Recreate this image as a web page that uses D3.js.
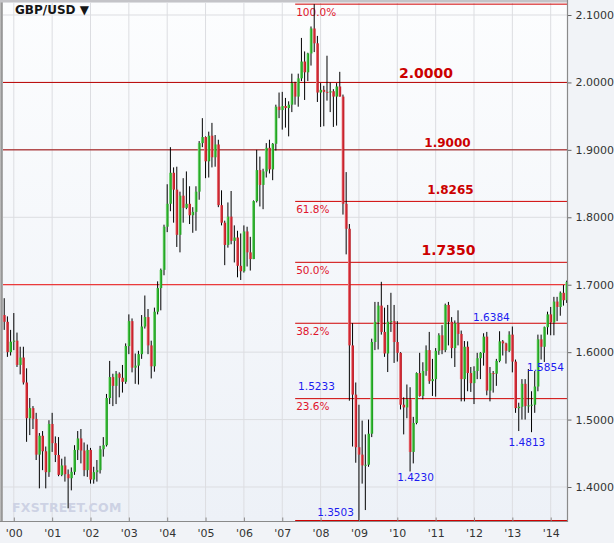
<!DOCTYPE html>
<html><head><meta charset="utf-8">
<script src="https://cdn.jsdelivr.net/npm/d3@7/dist/d3.min.js"></script>
<style>
html,body{margin:0;padding:0;background:#f1f3f7;}
svg{display:block;font-family:Verdana,"DejaVu Sans",sans-serif;}
</style>
</head><body>
<svg id="chart" width="614" height="543"></svg>
<script>
// ---------- DATA (monthly GBP/USD candles) ----------
const months = [
"1999-10","1999-11","1999-12",
"2000-01","2000-02","2000-03","2000-04","2000-05","2000-06","2000-07","2000-08","2000-09","2000-10","2000-11","2000-12",
"2001-01","2001-02","2001-03","2001-04","2001-05","2001-06","2001-07","2001-08","2001-09","2001-10","2001-11","2001-12",
"2002-01","2002-02","2002-03","2002-04","2002-05","2002-06","2002-07","2002-08","2002-09","2002-10","2002-11","2002-12",
"2003-01","2003-02","2003-03","2003-04","2003-05","2003-06","2003-07","2003-08","2003-09","2003-10","2003-11","2003-12",
"2004-01","2004-02","2004-03","2004-04","2004-05","2004-06","2004-07","2004-08","2004-09","2004-10","2004-11","2004-12",
"2005-01","2005-02","2005-03","2005-04","2005-05","2005-06","2005-07","2005-08","2005-09","2005-10","2005-11","2005-12",
"2006-01","2006-02","2006-03","2006-04","2006-05","2006-06","2006-07","2006-08","2006-09","2006-10","2006-11","2006-12",
"2007-01","2007-02","2007-03","2007-04","2007-05","2007-06","2007-07","2007-08","2007-09","2007-10","2007-11","2007-12",
"2008-01","2008-02","2008-03","2008-04","2008-05","2008-06","2008-07","2008-08","2008-09","2008-10","2008-11","2008-12",
"2009-01","2009-02","2009-03","2009-04","2009-05","2009-06","2009-07","2009-08","2009-09","2009-10","2009-11","2009-12",
"2010-01","2010-02","2010-03","2010-04","2010-05","2010-06","2010-07","2010-08","2010-09","2010-10","2010-11","2010-12",
"2011-01","2011-02","2011-03","2011-04","2011-05","2011-06","2011-07","2011-08","2011-09","2011-10","2011-11","2011-12",
"2012-01","2012-02","2012-03","2012-04","2012-05","2012-06","2012-07","2012-08","2012-09","2012-10","2012-11","2012-12",
"2013-01","2013-02","2013-03","2013-04","2013-05","2013-06","2013-07","2013-08","2013-09","2013-10","2013-11","2013-12",
"2014-01","2014-02","2014-03","2014-04","2014-05","2014-06"];

const openP = [
1.6550,1.6450,1.6000,
1.6155,1.6170,1.5810,1.5920,1.5550,1.5020,1.5170,1.5010,1.4480,1.4760,1.4530,1.4220,
1.4935,1.4650,1.4475,1.4180,1.4320,1.4190,1.4130,1.4225,1.4550,1.4720,1.4540,1.4250,
1.4550,1.4110,1.4220,1.4250,1.4560,1.4620,1.5320,1.5630,1.5500,1.5680,1.5620,1.5560,
1.6090,1.6460,1.5770,1.5800,1.5970,1.6380,1.6520,1.6100,1.5790,1.6600,1.6950,1.7220,
1.7860,1.8200,1.8660,1.8410,1.7740,1.8320,1.8140,1.8200,1.8030,1.8080,1.8380,1.9100,
1.9190,1.8830,1.9210,1.8890,1.9080,1.8180,1.7920,1.7590,1.8010,1.7650,1.7700,1.7280,
1.7200,1.7790,1.7480,1.7380,1.8240,1.8700,1.8480,1.8680,1.9030,1.8710,1.9090,1.9640,
1.9590,1.9650,1.9620,1.9670,1.9990,1.9790,2.0060,2.0310,2.0150,2.0430,2.0800,2.0580,
1.9850,1.9890,1.9860,1.9850,1.9870,1.9790,1.9940,1.9790,1.8200,1.7830,1.6100,1.5370,
1.4590,1.4480,1.4320,1.4330,1.4790,1.6150,1.6450,1.6690,1.6300,1.5980,1.6450,1.6460,
1.6150,1.5990,1.5220,1.5180,1.5300,1.4520,1.4950,1.5690,1.5350,1.5720,1.6030,1.5570,
1.5600,1.6020,1.6250,1.6030,1.6700,1.6450,1.6060,1.6430,1.6270,1.5600,1.6080,1.5690,
1.5540,1.5720,1.5910,1.5990,1.6230,1.5430,1.5690,1.5680,1.5870,1.6160,1.6130,1.6020,
1.6260,1.5860,1.5170,1.5190,1.5530,1.5200,1.5210,1.5220,1.5490,1.6190,1.6080,1.6370,
1.6560,1.6440,1.6750,1.6670,1.6880,1.6770];

const highP = [
1.6800,1.6530,1.6330,
1.6580,1.6290,1.6080,1.6080,1.5760,1.5320,1.5200,1.5100,1.4800,1.4830,1.4600,1.4990,
1.5100,1.4750,1.4740,1.4420,1.4450,1.4260,1.4290,1.4620,1.4830,1.4860,1.4660,1.4630,
1.4580,1.4300,1.4400,1.4610,1.4740,1.5380,1.5870,1.5680,1.5720,1.5700,1.5810,1.6130,
1.6560,1.6500,1.5980,1.6020,1.6550,1.6840,1.6640,1.6170,1.6660,1.7050,1.7240,1.7890,
1.8490,1.9040,1.8740,1.8750,1.8380,1.8580,1.8680,1.8460,1.8150,1.8460,1.9130,1.9470,
1.9200,1.9270,1.9400,1.9220,1.9150,1.8400,1.7950,1.8220,1.8390,1.7880,1.7800,1.7760,
1.7880,1.7860,1.7710,1.8250,1.9000,1.8900,1.8720,1.9100,1.9150,1.9100,1.9670,1.9850,
1.9860,1.9770,1.9720,2.0130,2.0010,2.0130,2.0660,2.0460,2.0440,2.0830,2.1161,2.0690,
1.9990,1.9950,2.0396,2.0000,1.9900,1.9990,2.0157,1.9820,1.8670,1.7900,1.6430,1.5550,
1.5220,1.4985,1.4780,1.5000,1.6200,1.6745,1.6745,1.7043,1.6660,1.6700,1.6880,1.6700,
1.6460,1.6000,1.5330,1.5520,1.5480,1.5040,1.5700,1.5990,1.5850,1.6100,1.6300,1.5900,
1.6060,1.6280,1.6400,1.6720,1.6745,1.6520,1.6470,1.6620,1.6320,1.6165,1.6160,1.5780,
1.5790,1.5990,1.6000,1.6280,1.6300,1.5780,1.5720,1.5900,1.6310,1.6180,1.6140,1.6310,
1.6380,1.5890,1.5250,1.5600,1.5600,1.5750,1.5420,1.5720,1.6260,1.6260,1.6380,1.6600,
1.6670,1.6820,1.6820,1.6900,1.6995,1.7060];

const lowP = [
1.6330,1.5930,1.5950,
1.6030,1.5780,1.5670,1.5520,1.4670,1.4770,1.4860,1.4400,1.3980,1.4250,1.3980,1.4150,
1.4520,1.4370,1.4160,1.4160,1.4080,1.3684,1.3950,1.4180,1.4400,1.4350,1.4160,1.4150,
1.4050,1.4050,1.4080,1.4200,1.4450,1.4600,1.5230,1.5200,1.5230,1.5330,1.5400,1.5530,
1.5970,1.5700,1.5530,1.5520,1.5900,1.6350,1.5970,1.5610,1.5710,1.6560,1.6620,1.7140,
1.7780,1.8090,1.7920,1.7560,1.7480,1.7920,1.8120,1.7900,1.7770,1.7800,1.8260,1.9040,
1.8580,1.8590,1.8740,1.8750,1.8150,1.7880,1.7290,1.7550,1.7600,1.7330,1.7110,1.7070,
1.7180,1.7270,1.7210,1.7380,1.8220,1.8160,1.8120,1.8590,1.8650,1.8550,1.8990,1.9470,
1.9300,1.9330,1.9200,1.9560,1.9670,1.9640,2.0020,1.9740,2.0020,2.0250,2.0450,1.9710,
1.9340,1.9350,1.9730,1.9560,1.9340,1.9360,1.9790,1.8040,1.7450,1.5280,1.4600,1.4360,
1.3503,1.4050,1.3658,1.4300,1.4740,1.6030,1.6040,1.6260,1.5930,1.5705,1.6300,1.5840,
1.5860,1.5150,1.4780,1.5020,1.4230,1.4350,1.4930,1.5340,1.5300,1.5650,1.5530,1.5350,
1.5340,1.5960,1.5970,1.6000,1.6100,1.5910,1.5780,1.6100,1.5270,1.5270,1.5420,1.5410,
1.5230,1.5600,1.5600,1.5800,1.5360,1.5270,1.5400,1.5500,1.5850,1.5950,1.5830,1.6000,
1.5700,1.5100,1.4830,1.5000,1.5000,1.5100,1.4813,1.5100,1.5420,1.5890,1.5854,1.6260,
1.6250,1.6250,1.6460,1.6540,1.6690,1.6730];

const closeP = [
1.6450,1.6000,1.6155,
1.6170,1.5810,1.5920,1.5550,1.5020,1.5170,1.5010,1.4480,1.4760,1.4530,1.4220,1.4935,
1.4650,1.4475,1.4180,1.4320,1.4190,1.4130,1.4225,1.4550,1.4720,1.4540,1.4250,1.4550,
1.4110,1.4220,1.4250,1.4560,1.4620,1.5320,1.5630,1.5500,1.5680,1.5620,1.5560,1.6090,
1.6460,1.5770,1.5800,1.5970,1.6380,1.6520,1.6100,1.5790,1.6600,1.6950,1.7220,1.7860,
1.8200,1.8660,1.8410,1.7740,1.8320,1.8140,1.8200,1.8030,1.8080,1.8380,1.9100,1.9190,
1.8830,1.9210,1.8890,1.9080,1.8180,1.7920,1.7590,1.8010,1.7650,1.7700,1.7280,1.7200,
1.7790,1.7480,1.7380,1.8240,1.8700,1.8480,1.8680,1.9030,1.8710,1.9090,1.9640,1.9590,
1.9650,1.9620,1.9670,1.9990,1.9790,2.0060,2.0310,2.0150,2.0430,2.0800,2.0580,1.9850,
1.9890,1.9860,1.9850,1.9870,1.9790,1.9940,1.9790,1.8200,1.7830,1.6100,1.5370,1.4590,
1.4480,1.4320,1.4330,1.4790,1.6150,1.6450,1.6690,1.6300,1.5980,1.6450,1.6460,1.6150,
1.5990,1.5220,1.5180,1.5300,1.4520,1.4950,1.5690,1.5350,1.5720,1.6030,1.5570,1.5600,
1.6020,1.6250,1.6030,1.6700,1.6450,1.6060,1.6430,1.6270,1.5600,1.6080,1.5690,1.5540,
1.5720,1.5910,1.5990,1.6230,1.5430,1.5690,1.5680,1.5870,1.6160,1.6130,1.6020,1.6260,
1.5860,1.5170,1.5190,1.5530,1.5200,1.5210,1.5220,1.5490,1.6190,1.6080,1.6370,1.6560,
1.6440,1.6750,1.6670,1.6880,1.6770,1.7040];

const yearTickValues = [2000,2001,2002,2003,2004,2005,2006,2007,2008,2009,2010,2011,2012,2013,2014];
const yearTickLabels = ["'00","'01","'02","'03","'04","'05","'06","'07","'08","'09","'10","'11","'12","'13","'14"];
const priceTicks = [1.4,1.5,1.6,1.7,1.8,1.9,2.0,2.1];

const fullWidthLevels = [2.0, 1.9, 1.7];
const fullWidthColors = ["#b80000", "#9a0000", "#ee1010"];
const fibHigh = 2.1161, fibLow = 1.3503, fibStart = 2007.35;
const fibRatios = [1, 0.618, 0.5, 0.382, 0.236, 0];
const fibLabels = ["100.0%", "61.8%", "50.0%", "38.2%", "23.6%", ""];

// level annotations: text, date anchor (centre), price anchor (baseline), font size
const levelNotes = [
  ["2.0000", 2010.761, 2.0066, 14],
  ["1.9000", 2011.322, 1.9042, 12],
  ["1.8265", 2011.400, 1.8345, 12],
  ["1.7350", 2011.348, 1.7441, 14]
];
// price annotations (blue)
const priceNotes = [
  ["1.6384", 2012.467, 1.6462],
  ["1.5233", 2007.906, 1.5439],
  ["1.5854", 2013.877, 1.5720],
  ["1.4813", 2013.392, 1.4608],
  ["1.4230", 2010.488, 1.4082],
  ["1.3503", 2008.402, 1.3577]
];

// ---------- DRAW ----------
const svg = d3.select("#chart");
const W = 614, H = 543;
const x = d3.scaleLinear().domain([2000, 2014]).range([13.3, 550.2]);
const y = d3.scaleLinear().domain([1.4, 2.1]).range([487, 15]);
const L = 3, R = 567.5, T = 2.5, B = 521.5;

const defs = svg.append("defs");
const bg = defs.append("linearGradient").attr("id","bg").attr("x1",0).attr("y1",0).attr("x2",0).attr("y2",1);
bg.append("stop").attr("offset","0%").attr("stop-color","#fcfdfe");
bg.append("stop").attr("offset","100%").attr("stop-color","#edf1f7");
const lb = defs.append("linearGradient").attr("id","lb").attr("x1",0).attr("y1",0).attr("x2",1).attr("y2",0);
lb.append("stop").attr("offset","0%").attr("stop-color","#c8c8c8");
lb.append("stop").attr("offset","60%").attr("stop-color","#8e8e8e");
lb.append("stop").attr("offset","100%").attr("stop-color","#bdbdbd");
function bodyGrad(id, c1, c2, c3){
  const g = defs.append("linearGradient").attr("id",id).attr("x1",0).attr("y1",0).attr("x2",1).attr("y2",0);
  g.append("stop").attr("offset","0%").attr("stop-color",c1);
  g.append("stop").attr("offset","45%").attr("stop-color",c2);
  g.append("stop").attr("offset","100%").attr("stop-color",c3);
}
bodyGrad("gUp", "#a6e4a6", "#2fb52f", "#179417");
bodyGrad("gDn", "#f09a9a", "#d52a36", "#b51a22");

svg.append("rect").attr("width",W).attr("height",H).attr("fill","#f1f3f7");
svg.append("rect").attr("x",L).attr("y",T).attr("width",R-L).attr("height",B-T).attr("fill","url(#bg)");
svg.append("rect").attr("x",0).attr("y",0).attr("width",L).attr("height",B).attr("fill","url(#lb)");
svg.append("rect").attr("x",0).attr("y",0).attr("width",R).attr("height",T).attr("fill","#c4c4c8");

// grid
const grid = svg.append("g");
grid.selectAll("line.v").data(yearTickValues).join("line")
  .attr("x1",d=>x(d)+0.5).attr("x2",d=>x(d)+0.5).attr("y1",T).attr("y2",B)
  .attr("stroke","#dcdde1").attr("stroke-width",1);
grid.selectAll("line.h").data(priceTicks).join("line")
  .attr("x1",L).attr("x2",R).attr("y1",d=>y(d)).attr("y2",d=>y(d))
  .attr("stroke","#dcdde1").attr("stroke-width",1);

// watermark
svg.append("text").attr("x",12).attr("y",512).text("FXSTREET.COM")
  .attr("font-size",12.5).attr("font-weight","bold").attr("letter-spacing","0.3px")
  .attr("fill","#cdd2e4");

// full-width level lines
svg.append("g").selectAll("line").data(fullWidthLevels).join("line")
  .attr("x1",L).attr("x2",R).attr("y1",d=>y(d)).attr("y2",d=>y(d))
  .attr("stroke",(d,i)=>fullWidthColors[i]).attr("stroke-width",1);

// fibonacci lines
const fibVals = fibRatios.map(r => fibLow + r*(fibHigh-fibLow));
svg.append("g").selectAll("line").data(fibVals).join("line")
  .attr("x1",x(fibStart)).attr("x2",R).attr("y1",d=>y(d)).attr("y2",d=>y(d))
  .attr("stroke","#d00000").attr("stroke-width",1);
svg.append("g").selectAll("text").data(fibVals).join("text")
  .attr("x",x(fibStart)+1).attr("y",d=>y(d)+11.5)
  .text((d,i)=>fibLabels[i]).attr("font-size",10.5).attr("fill","#e0142c");

// candles
const candles = months.map((m,i)=>{
  const [yy,mm] = m.split("-").map(Number);
  return {t: yy + (mm-1)/12, o: openP[i], h: highP[i], l: lowP[i], c: closeP[i]};
});
const cg = svg.append("g");
cg.selectAll("line").data(candles).join("line")
  .attr("x1",d=>x(d.t)+0.5).attr("x2",d=>x(d.t)+0.5)
  .attr("y1",d=>y(d.h)).attr("y2",d=>y(d.l))
  .attr("stroke","#000").attr("stroke-width",1);
const bw = 2.8;
cg.selectAll("rect").data(candles).join("rect")
  .attr("x",d=>x(d.t)-bw/2+0.5).attr("width",bw)
  .attr("y",d=>y(Math.max(d.o,d.c)))
  .attr("height",d=>Math.max(1, Math.abs(y(d.o)-y(d.c))))
  .attr("fill",d=>d.c>=d.o ? "url(#gUp)" : "url(#gDn)");

// level notes
svg.append("g").selectAll("text").data(levelNotes).join("text")
  .attr("x",d=>x(d[1])).attr("y",d=>y(d[2])).attr("text-anchor","middle")
  .attr("font-size",d=>d[3]).attr("font-weight","bold").attr("fill","#cc0000")
  .text(d=>d[0]);
// price notes
svg.append("g").selectAll("text").data(priceNotes).join("text")
  .attr("x",d=>x(d[1])).attr("y",d=>y(d[2])).attr("text-anchor","middle")
  .attr("font-size",10.5).attr("fill","#1c1cf0")
  .text(d=>d[0]);

// axes
const yAxis = d3.axisRight(y).tickValues(priceTicks).tickFormat(d3.format(".4f")).tickSize(4).tickPadding(4);
const ya = svg.append("g").attr("transform",`translate(${R},0)`).call(yAxis);
ya.select(".domain").remove();
ya.selectAll("line").attr("stroke","#666");
ya.selectAll("text").attr("font-size",11).attr("fill","#333").attr("font-family",'Verdana,"DejaVu Sans",sans-serif');
svg.append("line").attr("x1",R).attr("x2",R).attr("y1",0).attr("y2",B+0.5).attr("stroke","#8a8a8a").attr("stroke-width",1.2);

const xAxis = d3.axisBottom(x).tickValues(yearTickValues).tickFormat((d,i)=>yearTickLabels[i]).tickSizeInner(-4).tickSizeOuter(0).tickPadding(8);
const xa = svg.append("g").attr("transform",`translate(0.5,${B})`).call(xAxis);
xa.select(".domain").remove();
xa.selectAll("line").attr("stroke","#8a8a8a");
xa.selectAll("text").attr("font-size",11).attr("fill","#333").attr("font-family",'Verdana,"DejaVu Sans",sans-serif');
svg.append("line").attr("x1",0).attr("x2",R).attr("y1",B).attr("y2",B).attr("stroke","#8a8a8a").attr("stroke-width",1.2);

// title
svg.append("text").attr("x",15).attr("y",14).text("GBP/USD \u25BC")
  .attr("font-size",12).attr("font-weight","bold").attr("fill","#151515");
</script>
</body></html>
